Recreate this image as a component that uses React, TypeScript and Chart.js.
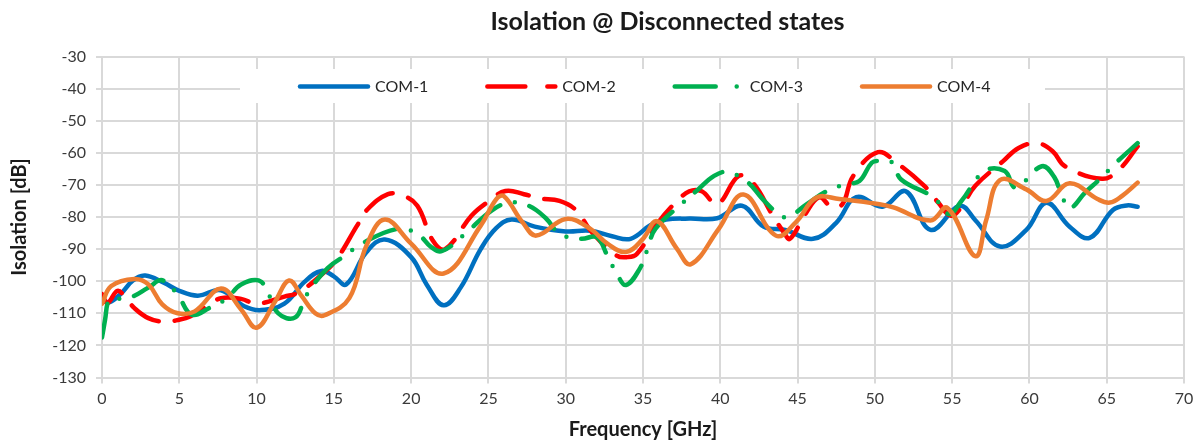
import { useEffect, useRef } from 'react';
import { Chart, registerables } from 'chart.js';

Chart.register(...registerables);

const chartTitle = 'Isolation @ Disconnected states';
const xAxisTitle = 'Frequency [GHz]';
const yAxisTitle = 'Isolation [dB]';
const seriesNames = ['COM-1', 'COM-2', 'COM-3', 'COM-4'];
const seriesColors = ['#0070C0', '#FF0000', '#00B050', '#ED7D31'];

const com1Freq = [0, 0.5, 1.2, 2, 2.8, 4, 5, 6.2, 7.7, 9.2, 10.3, 11.8, 13.1, 14.2, 15, 15.8, 17.1, 18.3, 20, 21, 22.1, 23.2, 24.5, 25.5, 26.5, 28, 30, 31.6, 33, 34.2, 35.5, 36.5, 38, 39.8, 41.4, 42.8, 44.2, 46, 47.5, 48.8, 50.5, 52, 53.6, 55.5, 56.5, 58.1, 59.8, 61.1, 62.6, 63.9, 65.4, 66.3, 67];
const com1Iso = [-106, -106.5, -104, -99.8, -98.2, -100.5, -103, -104.5, -102.8, -107.8, -109, -107, -100.2, -96.8, -98.5, -101, -91, -87, -92.5, -101, -107.5, -102, -90, -83.5, -80.8, -83, -84.5, -84.3, -86, -86.8, -82.5, -80.8, -80.5, -80.4, -76.5, -83, -84, -86.8, -81.8, -73.8, -76.8, -72, -84, -76.5, -81, -89.2, -84, -75.6, -83, -86.5, -77.8, -76.4, -76.8];

const com2Freq = [0, 0.35, 1, 1.5, 2.1, 3, 4, 5, 5.7, 6.7, 7.7, 9, 10, 11.8, 12.7, 14.2, 15.2, 16.5, 17.2, 18.5, 19.4, 20.4, 21.4, 22.2, 23.9, 24.9, 26.1, 27.3, 28.3, 29.6, 30.7, 31.6, 33.3, 34, 34.6, 35.9, 37, 38, 38.8, 39.8, 41.2, 42.1, 43.4, 44.1, 44.5, 45.5, 46.4, 47.2, 47.9, 48.6, 50.2, 51.4, 53.2, 54.1, 54.9, 55.5, 56.5, 58.3, 59.3, 60.5, 61.5, 62.3, 64.7, 65.8, 67];
const com2Iso = [-104, -106.8, -103, -105, -108.4, -111.5, -112.6, -112, -111, -108, -105.3, -105.5, -107, -104.8, -103.5, -98, -93, -82.7, -77.5, -72.9, -73.2, -76.5, -87.3, -90, -79.6, -75.5, -71.9, -72.9, -74.2, -75, -78, -84.2, -92, -92.5, -91.5, -82.2, -76, -72, -72, -76, -67.2, -69.3, -79.6, -84.7, -86.8, -79.1, -73.9, -76.8, -76, -67.2, -59.8, -63.1, -70.3, -75.5, -79.6, -77.5, -70.3, -62.6, -58.5, -57, -59.5, -64.2, -68.1, -65.2, -58];

const com3Freq = [0, 0.2, 0.4, 0.7, 1.2, 1.8, 3, 3.9, 4.9, 5.8, 7, 8.1, 9, 10.3, 11.4, 12.5, 13.2, 14.6, 15.7, 16.8, 19.1, 20.4, 21.3, 22, 23.5, 25.2, 26.4, 27.6, 28.7, 29.6, 31, 32, 32.7, 33.3, 33.9, 34.8, 35.3, 35.8, 37.6, 38.5, 39.6, 40.5, 41.8, 42.7, 43.6, 44.3, 45.6, 46.9, 48.1, 49, 49.8, 50.3, 51.1, 51.7, 53.8, 54.8, 55.6, 57.1, 58.4, 59.1, 60.8, 61.6, 62.1, 62.6, 63.6, 64.6, 65.6, 67];
const com3Iso = [-117.5, -112, -106.3, -105.3, -105.5, -105.2, -102, -99.7, -104.3, -110.4, -108.2, -105.3, -101, -100.2, -110, -111.3, -104.5, -95.9, -92.1, -88.3, -83.7, -85.2, -89.4, -90.6, -85.2, -78, -75.5, -76.5, -80.3, -85.2, -86.8, -86.3, -92.1, -97.6, -101.2, -96, -89.9, -83.7, -75.5, -71.7, -67.2, -66, -69.3, -74.2, -78.4, -80.1, -76, -71.9, -69.8, -68.8, -63.1, -62.5, -62.9, -68.3, -73.9, -79.1, -75, -65.7, -65.7, -70.8, -64.2, -67.5, -73.4, -77.3, -72.4, -68, -63.1, -57];

const com4Freq = [0, 0.6, 2.1, 3, 3.9, 4.9, 6, 7.7, 9, 10, 11.2, 12.1, 12.9, 13.8, 14.4, 16, 17.1, 18.3, 20, 22.1, 24.5, 25.5, 26, 27.2, 28.1, 30, 31.6, 32.7, 33.9, 35, 35.9, 37.2, 38.1, 39.9, 41.5, 43.6, 44.9, 46.2, 47.7, 50.3, 51.2, 53.6, 54.7, 56.5, 57.2, 58.1, 59.8, 61.1, 62.6, 64.4, 65.2, 66, 67];
const com4Iso = [-107, -101.5, -99.3, -101, -107.2, -110, -109.4, -102.3, -108.8, -114.5, -106.3, -99.8, -104.5, -110, -110.6, -105.3, -89, -80.8, -88.3, -97.6, -82.7, -74.5, -73.5, -81.6, -85.8, -80.6, -83.7, -88.3, -90.9, -86.8, -81.3, -89.9, -94.7, -83.7, -73, -85.8, -81.6, -74, -74.4, -76, -77, -81.1, -77.2, -92.2, -81, -68.5, -71.4, -75, -69.5, -74.4, -75.5, -73.4, -69.3];

const seriesFreqs = [com1Freq, com2Freq, com3Freq, com4Freq];
const seriesValues = [com1Iso, com2Iso, com3Iso, com4Iso];

const xMin = 0;
const xMax = 70;
const xStep = 5;
const yMin = -130;
const yMax = -30;
const yStep = 10;

const FONT = 'Lato, "Noto Sans", sans-serif';
const lineDashes: number[][] = [[], [32, 16], [34, 15, 0, 15], []];
const legendDashes: number[][] = [[], [38, 22], [41, 21, 0, 200], []];

const insideLegend = {
  id: 'insideLegend',
  beforeDatasetsDraw(chart: any) {
    const { ctx, chartArea } = chart;
    ctx.save();
    const boxLeft = chartArea.left + 138;
    const boxRight = chartArea.left + 943;
    const boxTop = chartArea.top + 12.5;
    const boxH = 34;
    ctx.fillStyle = '#ffffff';
    ctx.fillRect(boxLeft, boxTop, boxRight - boxLeft, boxH);
    const cy = boxTop + 17.5;
    let x = boxLeft + 58;
    ctx.font = `16px ${FONT}`;
    ctx.textBaseline = 'middle';
    ctx.textAlign = 'left';
    seriesNames.forEach((name, i) => {
      ctx.strokeStyle = seriesColors[i];
      ctx.lineWidth = 4.5;
      ctx.lineCap = 'round';
      ctx.setLineDash(legendDashes[i]);
      ctx.beginPath();
      ctx.moveTo(x + 2, cy);
      ctx.lineTo(x + 70, cy);
      ctx.stroke();
      ctx.setLineDash([]);
      ctx.fillStyle = '#262626';
      ctx.fillText(name, x + 77, cy);
      x += 77 + ctx.measureText(name).width + 57;
    });
    ctx.restore();
  },
};

const titleDrawer = {
  id: 'titleDrawer',
  afterDraw(chart: any) {
    const { ctx, chartArea } = chart;
    ctx.save();
    ctx.font = `bold 25px ${FONT}`;
    ctx.fillStyle = '#1a1a1a';
    ctx.textAlign = 'center';
    ctx.textBaseline = 'middle';
    ctx.fillText(chartTitle, chartArea.left + 565.5, 22);
    ctx.restore();
  },
};

export default function App() {
  const canvasRef = useRef<HTMLCanvasElement | null>(null);

  useEffect(() => {
    document.body.style.margin = '0';
    const canvas = canvasRef.current;
    if (!canvas) return;
    const datasets = seriesNames.map((name, i) => ({
      label: name,
      data: seriesFreqs[i].map((f, j) => ({ x: f, y: seriesValues[i][j] })),
      borderColor: seriesColors[i],
      backgroundColor: seriesColors[i],
      borderWidth: 4.5,
      borderDash: lineDashes[i],
      borderCapStyle: 'round' as const,
      borderJoinStyle: 'round' as const,
      pointRadius: 0,
      pointHoverRadius: 0,
      tension: 0.4,
      fill: false,
      order: seriesNames.length - 1 - i,
    }));

    const chart = new Chart(canvas, {
      type: 'line',
      data: { datasets },
      plugins: [insideLegend, titleDrawer],
      options: {
        responsive: false,
        animation: false,
        layout: { padding: { left: 0, right: 16, top: 56.5, bottom: 0 } },
        plugins: {
          legend: { display: false },
          tooltip: { enabled: false },
          title: { display: false },
        },
        scales: {
          x: {
            type: 'linear',
            min: xMin,
            max: xMax,
            afterFit: (scale: any) => {
              scale.height = 65.5;
            },
            ticks: {
              stepSize: xStep,
              color: '#3a3a3a',
              font: { family: FONT, size: 16 },
              padding: 6,
              maxRotation: 0,
            },
            grid: { color: '#d9d9d9', lineWidth: 2, tickLength: 6 },
            border: { color: '#d9d9d9', width: 2 },
            title: {
              display: true,
              text: xAxisTitle,
              color: '#1a1a1a',
              font: { family: FONT, size: 20, weight: 'bold', lineHeight: 1.2 },
              padding: { top: 0, bottom: 1 },
            },
          },
          y: {
            type: 'linear',
            min: yMin,
            max: yMax,
            afterFit: (scale: any) => {
              scale.width = 102;
            },
            ticks: {
              stepSize: yStep,
              color: '#3a3a3a',
              font: { family: FONT, size: 16 },
              padding: 10,
            },
            grid: { color: '#d9d9d9', lineWidth: 2, tickLength: 6 },
            border: { color: '#d9d9d9', width: 2 },
            title: {
              display: true,
              text: yAxisTitle,
              color: '#1a1a1a',
              font: { family: FONT, size: 20, weight: 'bold', lineHeight: 1.2 },
              padding: { top: 8, bottom: 0 },
            },
          },
        },
      },
    });
    return () => chart.destroy();
  }, []);

  return (
    <div style={{ width: 1200, height: 443 }}>
      <canvas ref={canvasRef} width={1200} height={443} style={{ display: 'block' }} />
    </div>
  );
}
